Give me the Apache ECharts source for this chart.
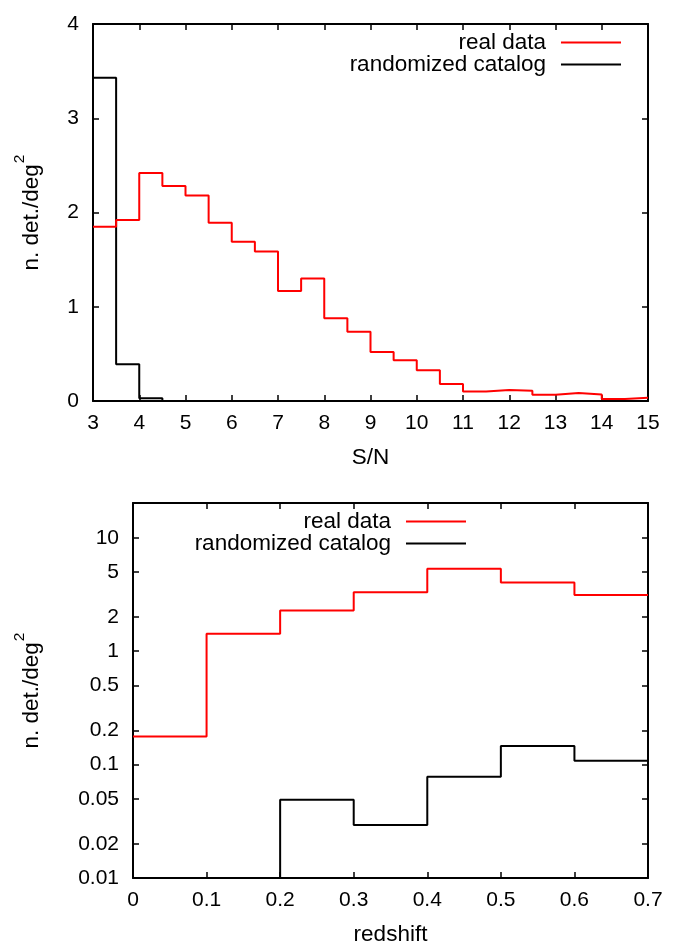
<!DOCTYPE html>
<html><head><meta charset="utf-8">
<script src="https://cdn.jsdelivr.net/npm/echarts@6/dist/echarts.min.js"></script>
<style>html,body{margin:0;padding:0;background:#fff}#c{width:675px;height:947px}</style>
</head><body><div id="c"></div>
<script>
// ---- top panel: S/N histogram (bin starts, width 0.5) ----
const snBinStarts = [3,3.5,4,4.5,5,5.5,6,6.5,7,7.5,8,8.5,9,9.5,10,10.5,11,11.5,12,12.5,13,13.5,14,14.5];
const snBinEnd = 15;
const snReal   = [1.85,1.92,2.42,2.28,2.18,1.89,1.69,1.585,1.168,1.30,0.878,0.736,0.52,0.432,0.326,0.18,0.10,0.117,0.11,0.067,0.085,0.07,0.02,0.035];
const snRandom = [3.43,0.39,0.03,0,0,0,0,0,0,0,0,0,0,0,0,0,0,0,0,0,0,0,0,0];
const snXTicks = [3,4,5,6,7,8,9,10,11,12,13,14,15];
const snYTicks = [0,1,2,3,4];

// ---- bottom panel: redshift histogram (bin starts, width 0.1) ----
const zBinStarts = [0,0.1,0.2,0.3,0.4,0.5,0.6];
const zBinEnd = 0.7;
const zReal   = [0.177,1.43,2.29,3.31,5.35,4.03,3.14];
const zRandom = [0,0,0.049,0.0294,0.078,0.146,0.108];
const zYTicks = [0.01,0.02,0.05,0.1,0.2,0.5,1,2,5,10];
const zYMin = 0.01, zYMax = 20.3;

const seriesNames = ['real data','randomized catalog'];
const colors = ['#ff0000','#000000'];

function steps(starts, end, vals, floor){
  const d = starts.map((x,i)=>[x, (floor!==undefined && vals[i]<=0) ? floor : vals[i]]);
  d.push([end, d[d.length-1][1]]);
  return d;
}

const FONT = 'Liberation Sans';
const lbl = {color:'#000', fontSize:21, fontFamily:FONT};
const txt = {color:'#000', fontSize:22.5, fontFamily:FONT};
const axLine = {show:true, onZero:false, lineStyle:{color:'#000', width:2}};
const tick = {show:true, inside:true, length:6, lineStyle:{color:'#000', width:1.5}};
const yName = {
  name:'{a|n. det./deg}{s|2}',
  nameLocation:'middle', nameRotate:90,
  nameTextStyle:{rich:{
    a:{fontSize:22.5, fontFamily:FONT, color:'#000', lineHeight:23},
    s:{fontSize:15.5, fontFamily:FONT, color:'#000', lineHeight:16, padding:[0,0,24,1]}
  }}
};
function legendItem(name, right, top){
  return {data:[name], right:right, top:top, align:'right', orient:'vertical', padding:0, icon:'rect',
    itemWidth:60, itemHeight:2, selectedMode:false, itemStyle:{borderWidth:0},
    textStyle:Object.assign({lineHeight:22, padding:[0,10,0,0]}, txt)};
}

const chart = echarts.init(document.getElementById('c'));
chart.setOption({
  animation:false,
  backgroundColor:'#fff',
  grid:[
    {left:93, top:24, right:27, bottom:546},
    {left:133, top:503, right:27, bottom:67}
  ],
  xAxis:[
    {gridIndex:0, type:'value', min:snXTicks[0], max:snXTicks[snXTicks.length-1], interval:1, position:'bottom',
     axisLine:axLine, axisTick:tick, splitLine:{show:false},
     axisLabel:Object.assign({margin:12, showMinLabel:true, showMaxLabel:true}, lbl),
     name:'S/N', nameLocation:'middle', nameGap:45, nameTextStyle:txt},
    {gridIndex:0, type:'value', min:snXTicks[0], max:snXTicks[snXTicks.length-1], interval:1, position:'top',
     axisLine:axLine, axisTick:tick, splitLine:{show:false}, axisLabel:{show:false}},
    {gridIndex:1, type:'value', min:zBinStarts[0], max:zBinEnd, interval:0.1, position:'bottom',
     axisLine:axLine, axisTick:tick, splitLine:{show:false},
     axisLabel:Object.assign({margin:12, showMinLabel:true, showMaxLabel:true}, lbl),
     name:'redshift', nameLocation:'middle', nameGap:45, nameTextStyle:txt},
    {gridIndex:1, type:'value', min:zBinStarts[0], max:zBinEnd, interval:0.1, position:'top',
     axisLine:axLine, axisTick:tick, splitLine:{show:false}, axisLabel:{show:false}}
  ],
  yAxis:[
    Object.assign({gridIndex:0, type:'value', min:snYTicks[0], max:snYTicks[snYTicks.length-1], interval:1, position:'left',
     axisLine:axLine, axisTick:tick, splitLine:{show:false},
     axisLabel:Object.assign({margin:14}, lbl), nameGap:50}, yName),
    {gridIndex:0, type:'value', min:snYTicks[0], max:snYTicks[snYTicks.length-1], interval:1, position:'right',
     axisLine:axLine, axisTick:tick, splitLine:{show:false}, axisLabel:{show:false}},
    Object.assign({gridIndex:1, type:'log', logBase:10, min:zYMin, max:zYMax, position:'left',
     axisLine:axLine, axisTick:Object.assign({customValues:zYTicks}, tick), splitLine:{show:false},
     axisLabel:Object.assign({margin:14, customValues:zYTicks, formatter:v=>String(+(+v).toPrecision(3))}, lbl), nameGap:90}, yName),
    {gridIndex:1, type:'log', logBase:10, min:zYMin, max:zYMax, position:'right',
     axisLine:axLine, axisTick:Object.assign({customValues:zYTicks}, tick), splitLine:{show:false}, axisLabel:{show:false}}
  ],
  legend:[
    legendItem(seriesNames[0], 54, 31),
    legendItem(seriesNames[1], 54, 53),
    legendItem(seriesNames[0], 209, 510),
    legendItem(seriesNames[1], 209, 532)
  ],
  series:[
    {name:seriesNames[0], type:'line', xAxisIndex:0, yAxisIndex:0, step:'end', showSymbol:false, symbol:'none',
     color:colors[0], lineStyle:{color:colors[0], width:2}, data:steps(snBinStarts, snBinEnd, snReal), z:3},
    {name:seriesNames[1], type:'line', xAxisIndex:0, yAxisIndex:0, step:'end', showSymbol:false, symbol:'none',
     color:colors[1], lineStyle:{color:colors[1], width:2}, data:steps(snBinStarts, snBinEnd, snRandom), z:2},
    {name:seriesNames[0], type:'line', xAxisIndex:2, yAxisIndex:2, step:'end', showSymbol:false, symbol:'none',
     color:colors[0], lineStyle:{color:colors[0], width:2}, data:steps(zBinStarts, zBinEnd, zReal), z:3},
    {name:seriesNames[1], type:'line', xAxisIndex:2, yAxisIndex:2, step:'end', showSymbol:false, symbol:'none',
     color:colors[1], lineStyle:{color:colors[1], width:2}, data:steps(zBinStarts, zBinEnd, zRandom, zYMin), z:2}
  ]
});
</script>
</body></html>
